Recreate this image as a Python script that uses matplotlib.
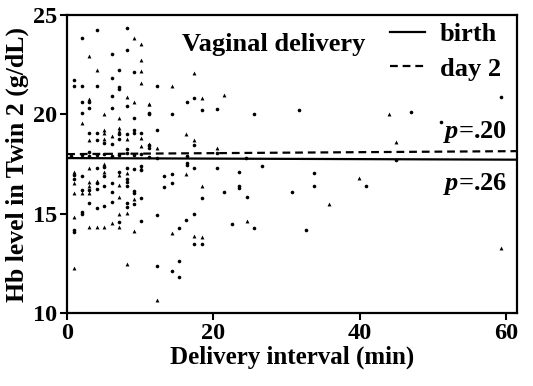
import matplotlib
matplotlib.use("Agg")
import matplotlib.pyplot as plt

plt.rcParams['font.family'] = 'Liberation Serif'
plt.rcParams['font.weight'] = 'bold'
plt.rcParams['mathtext.fontset'] = 'custom'
plt.rcParams['mathtext.it'] = 'Liberation Serif:italic:bold'

# Hb level (g/dL) vs delivery interval (min)
dots_x = [4.1, 8.15, 2.0, 6.1, 8.15, 7.1, 9.15, 1.0, 1.0, 2.0, 4.1, 6.1, 7.1, 7.1, 6.1, 2.0, 3.05, 2.0,
          3.05, 6.1, 8.15, 11.25, 9.15, 3.05, 4.1, 4.1, 5.05, 6.1, 7.1, 7.1, 8.15, 9.15, 9.15, 10.15,
          11.25, 11.25, 8.15, 3.05,
          1.0, 1.0, 2.0, 4.1, 5.05, 5.05, 7.1, 8.15, 8.15, 9.15, 10.15, 10.15, 4.1, 4.1, 5.05, 6.1,
          8.15, 8.15, 2.0, 3.05, 6.1, 9.15, 9.15, 10.15, 3.05, 4.1, 5.05, 6.1, 8.15, 8.15, 9.15, 2.0,
          2.0, 7.1, 10.15, 1.0, 1.0,
          12.3, 16.35, 17.4, 18.4, 20.5, 11.2, 14.3, 25.55, 12.3, 17.35, 16.35, 16.35, 17.35, 20.5,
          26.6, 13.3, 14.3, 13.3, 14.3, 18.4, 21.45, 23.5, 23.5, 23.5, 24.55, 12.3, 17.35, 16.3, 15.3,
          22.5, 25.55, 17.35, 18.4, 12.3, 15.3, 14.3, 15.3,
          31.7, 47.0, 59.3, 51.1, 33.7, 33.7, 30.7, 40.85, 32.65, 44.9,
          0.5, 2.0, 3.05, 4.1, 5.05, 6.1, 7.1, 8.15, 9.15, 10.15, 11.2, 12.3, 16.35, 20.5, 24.5]
dots_y = [24.26, 24.33, 23.84, 23.04, 23.25, 22.25, 22.13, 21.73, 21.43, 21.43, 21.43, 21.83, 21.4, 21.3,
          20.94, 20.62, 20.6, 20.05, 20.3, 20.3, 20.4, 20.05, 19.8, 19.05, 19.05, 18.7, 18.55, 18.5,
          19.0, 18.75, 19.0, 19.2, 19.05, 19.05, 18.45, 18.3, 18.25, 18.1,
          16.95, 16.73, 16.9, 17.28, 17.33, 16.9, 17.11, 17.3, 16.75, 17.25, 17.4, 17.2, 16.55, 16.25,
          16.4, 16.55, 16.6, 16.4, 16.2, 16.2, 16.1, 16.15, 16.05, 15.8, 15.52, 15.3, 15.38, 15.6,
          15.52, 15.35, 15.5, 15.1, 15.0, 14.6, 14.65, 14.2, 14.1,
          21.43, 20.6, 20.8, 20.2, 20.25, 20.03, 20.03, 20.03, 19.2, 18.45, 17.55, 17.45, 17.3, 17.3,
          17.4, 16.9, 17.0, 16.35, 16.55, 15.8, 16.1, 17.1, 16.4, 16.3, 15.85, 14.95, 15.0, 14.7, 14.3,
          14.5, 14.3, 13.5, 13.5, 12.35, 12.6, 12.1, 11.8,
          20.23, 20.1, 20.9, 19.6, 17.06, 16.38, 16.1, 16.38, 14.18, 17.7,
          17.9, 17.95, 17.9, 17.95, 18.0, 17.9, 17.95, 18.05, 17.95, 18.0, 17.85, 17.8, 17.9, 18.05, 17.8]

tri_x = [9.15, 10.15, 3.05, 10.15, 4.1, 10.15, 10.15, 8.15, 3.05, 9.15, 11.25, 5.05, 2.0, 7.1, 3.05,
         5.05, 5.05, 5.05, 6.1, 7.1, 7.1, 8.15, 10.15, 10.15,
         1.0, 1.0, 3.05, 5.05, 5.05, 7.1, 8.15, 10.15, 3.05, 3.05, 4.1, 7.1, 1.0, 2.0, 3.05, 9.15,
         7.1, 8.15, 1.0, 7.1, 3.05, 4.1, 5.05, 6.1, 7.1, 9.15, 1.0, 8.15,
         17.35, 14.3, 11.2, 21.45, 18.4, 16.3, 17.35, 11.2, 12.3, 20.5, 16.3, 18.4, 14.3, 24.55,
         17.35, 18.4, 12.3, 44.0, 44.9, 39.9, 35.75, 59.3]
tri_y = [23.83, 23.52, 22.92, 22.72, 22.23, 22.2, 21.6, 20.9, 20.75, 20.6, 20.52, 20.02, 19.55, 19.8,
         18.7, 19.2, 19.05, 18.75, 18.9, 19.3, 19.15, 18.75, 18.8, 18.4,
         17.11, 16.53, 17.28, 17.5, 17.11, 16.95, 17.05, 17.3, 16.6, 16.4, 16.65, 16.45, 16.03, 16.03,
         16.03, 15.75, 15.85, 15.05, 14.85, 14.98, 14.35, 14.35, 14.35, 14.55, 14.35, 14.15, 12.25, 12.45,
         22.1, 21.43, 20.52, 21.0, 20.8, 19.0, 18.7, 18.5, 18.3, 18.3, 17.0, 16.4, 14.05, 14.65,
         13.9, 13.85, 10.65, 20.0, 18.6, 16.8, 15.47, 13.25]

# regression lines (end points)
line_x = [0, 61.5]
birth_y = [17.8, 17.72]
day2_y = [18.0, 18.15]

fig = plt.figure(figsize=(5.33, 3.86), dpi=100)
ax = fig.add_axes([0.126, 0.189, 0.844, 0.772])

ax.plot(dots_x, dots_y, 'o', color='black', ms=2.6, mew=0)
ax.plot(tri_x, tri_y, '^', color='black', ms=2.8, mew=0)
ax.plot(line_x, birth_y, '-', color='black', lw=1.6, label='birth')
ax.plot(line_x, day2_y, '--', color='black', lw=1.6, dashes=(3.5, 2.2), label='day 2')

ax.set_xlim(0, 61.5)
ax.set_ylim(10, 25)
ax.set_xticks([0, 20, 40, 60])
ax.set_yticks([10, 15, 20, 25])
ax.tick_params(labelsize=17.5, width=1.5, length=5, pad=2)
for s in ax.spines.values():
    s.set_linewidth(1.6)

ax.set_xlabel('Delivery interval (min)', fontsize=18, fontweight='bold', labelpad=1)
ax.set_ylabel('Hb level in Twin 2 (g/dL)', fontsize=18.5, fontweight='bold', labelpad=3)

ax.text(28.2, 23.5, 'Vaginal delivery', fontsize=19, fontweight='bold', ha='center', va='center')
ax.text(60.2, 19.1, r'$p$=.20', fontsize=19, ha='right', va='center')
ax.text(60.2, 16.5, r'$p$=.26', fontsize=19, ha='right', va='center')

leg = ax.legend(loc='upper right', bbox_to_anchor=(0.988, 1.01), frameon=False, fontsize=19,
                handlelength=1.35, borderaxespad=0.0, labelspacing=0.42, handletextpad=0.55)

fig.savefig('out.png', dpi=100)
